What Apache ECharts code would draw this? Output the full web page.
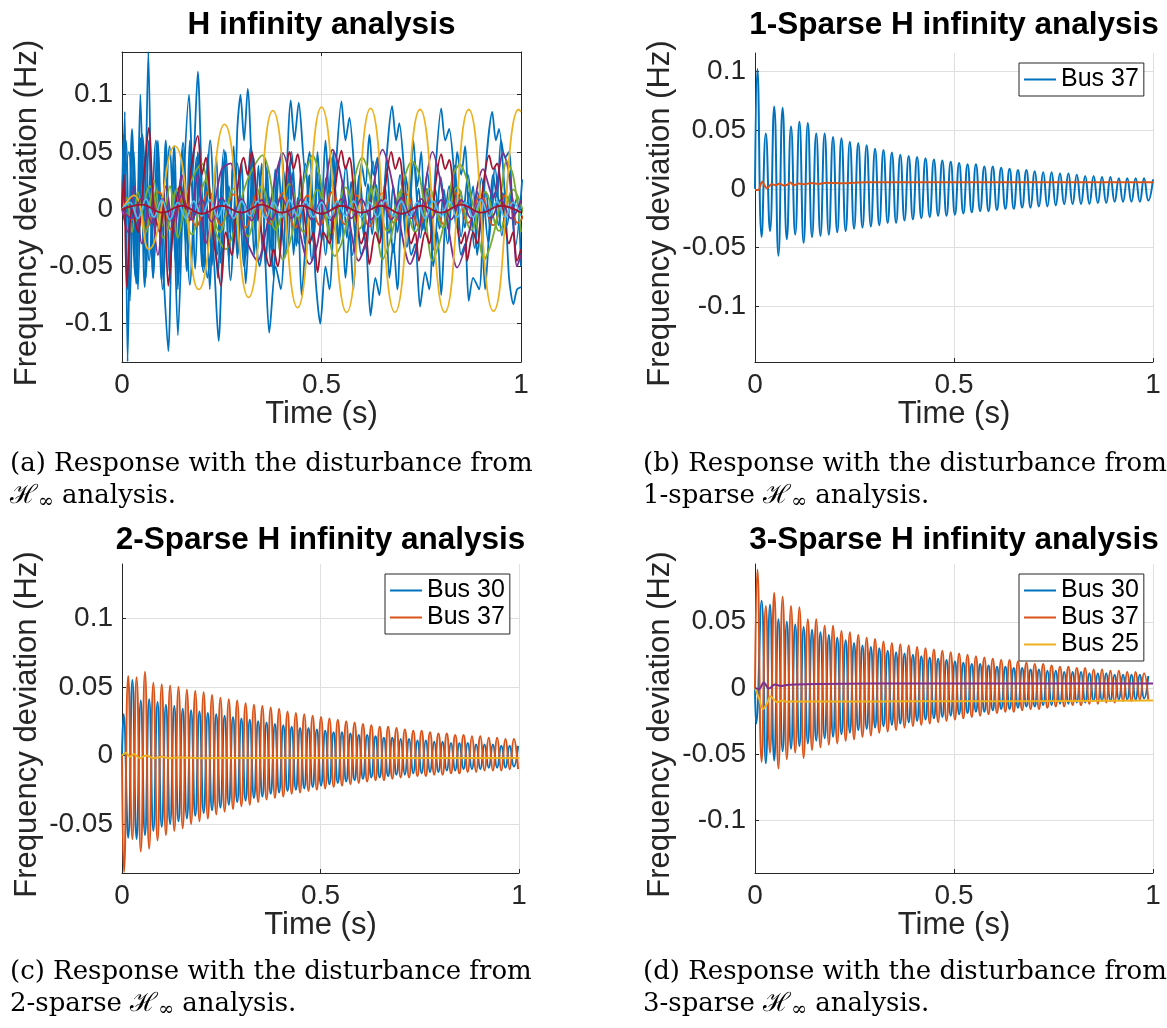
<!DOCTYPE html>
<html><head><meta charset="utf-8">
<script src="https://cdn.jsdelivr.net/npm/echarts@6/dist/echarts.min.js"></script>
<style>html,body{margin:0;padding:0;background:#fff}#c{width:1167px;height:1028px}</style>
</head><body><div id="c"></div><script>
// ---------------- data ----------------
const xTicks = [0, 0.5, 1];
const yTicksA = [-0.1, -0.05, 0, 0.05, 0.1];
const yTicksB = [-0.1, -0.05, 0, 0.05, 0.1];
const yTicksC = [-0.05, 0, 0.05, 0.1];
const yTicksD = [-0.1, -0.05, 0, 0.05];
const yLimA = [-0.1334, 0.1372];
const yLimB = [-0.1474, 0.1156];
const yLimC = [-0.0857, 0.1396];
const yLimD = [-0.140, 0.0937];
const HALF = 0.01056; // half period of the fast mode, read from the peaks spacing

// panel (b) 1-sparse
const bBus37Peaks = [0.102,0.047,0.070,0.069,0.053,0.057,0.056,0.047,0.047,0.044,0.043,0.040,0.039,0.037,0.034,0.033,0.031,0.029,0.028,0.027,0.026,0.025,0.024,0.023,0.022,0.021,0.021,0.019,0.019,0.018,0.017,0.016,0.016,0.015,0.014,0.014,0.013,0.013,0.012,0.011,0.011,0.010,0.010,0.009,0.009,0.009,0.009];
const bBus37Troughs = [-0.041,-0.036,-0.057,-0.043,-0.039,-0.046,-0.041,-0.040,-0.039,-0.037,-0.036,-0.034,-0.033,-0.032,-0.031,-0.029,-0.029,-0.027,-0.026,-0.025,-0.024,-0.023,-0.023,-0.022,-0.021,-0.020,-0.019,-0.019,-0.018,-0.017,-0.017,-0.016,-0.016,-0.015,-0.015,-0.014,-0.013,-0.013,-0.013,-0.013,-0.012,-0.012,-0.011,-0.011,-0.011,-0.011,-0.010];
const bOther = [[0,-0.001],[0.008,-0.001],[0.018,0.006],[0.03,0.0005],[0.042,0.004],[0.052,0.003],[0.062,0.0045],[0.072,0.0028],[0.082,0.0035],[0.088,0.0055],[0.098,0.003],[0.11,0.0045],[0.125,0.0038],[0.14,0.005],[0.16,0.0042],[0.18,0.0052],[0.22,0.0048],[0.28,0.0055],[0.4,0.0055],[0.6,0.0056],[1,0.0056]];

// panel (c) 2-sparse
const cBus37Peaks = [0.058,0.057,0.061,0.053,0.052,0.051,0.050,0.048,0.047,0.046,0.044,0.042,0.041,0.040,0.038,0.037,0.036,0.035,0.034,0.032,0.031,0.030,0.029,0.028,0.027,0.026,0.025,0.024,0.023,0.022,0.021,0.021,0.020,0.019,0.018,0.018,0.017,0.016,0.016,0.015,0.015,0.014,0.014,0.013,0.013,0.012,0.012];
const cBus37Troughs = [-0.061,-0.070,-0.068,-0.062,-0.058,-0.055,-0.053,-0.050,-0.048,-0.046,-0.043,-0.041,-0.039,-0.037,-0.036,-0.034,-0.032,-0.031,-0.030,-0.028,-0.027,-0.026,-0.025,-0.024,-0.023,-0.022,-0.021,-0.020,-0.019,-0.018,-0.018,-0.017,-0.016,-0.016,-0.015,-0.015,-0.014,-0.014,-0.013,-0.013,-0.012,-0.012,-0.011,-0.011,-0.011,-0.010,-0.010];
const cBus30Troughs = [-0.060,-0.061,-0.058,-0.055,-0.052,-0.050,-0.048,-0.046,-0.044,-0.042,-0.040,-0.038,-0.036,-0.034,-0.033,-0.031,-0.030,-0.028,-0.027,-0.026,-0.025,-0.024,-0.023,-0.022,-0.021,-0.020,-0.019,-0.018,-0.017,-0.016,-0.016,-0.015,-0.014,-0.014,-0.013,-0.013,-0.012,-0.012,-0.011,-0.011,-0.010,-0.010,-0.010,-0.009,-0.009,-0.009,-0.008];
const cBus30Peaks = [0.055,0.040,0.041,0.039,0.037,0.036,0.034,0.033,0.032,0.031,0.030,0.029,0.028,0.027,0.026,0.025,0.024,0.023,0.022,0.021,0.020,0.020,0.019,0.018,0.017,0.017,0.016,0.015,0.015,0.014,0.013,0.013,0.012,0.012,0.011,0.011,0.010,0.010,0.009,0.009,0.009,0.008,0.008,0.008,0.007,0.007,0.007];
const cOther = [[0,0],[0.01,0.002],[0.02,-0.001],[0.03,0.001],[0.045,-0.002],[0.06,0.0],[0.08,-0.002],[0.1,-0.001],[0.12,-0.002],[0.15,-0.0015],[0.2,-0.002],[0.3,-0.0018],[0.5,-0.0018],[1,-0.0018]];

// panel (d) 3-sparse
const dBus37Peaks = [0.0896,0.062,0.072,0.069,0.062,0.061,0.052,0.052,0.047,0.047,0.043,0.042,0.040,0.038,0.037,0.035,0.034,0.033,0.032,0.031,0.030,0.029,0.028,0.027,0.026,0.025,0.024,0.023,0.022,0.021,0.021,0.020,0.019,0.018,0.018,0.017,0.016,0.016,0.015,0.015,0.014,0.014,0.013,0.013,0.012,0.012,0.011];
const dBus37Troughs = [-0.056,-0.049,-0.061,-0.054,-0.049,-0.053,-0.047,-0.045,-0.043,-0.042,-0.040,-0.039,-0.037,-0.036,-0.034,-0.033,-0.032,-0.030,-0.029,-0.028,-0.027,-0.026,-0.025,-0.024,-0.023,-0.022,-0.021,-0.020,-0.019,-0.018,-0.018,-0.017,-0.016,-0.016,-0.015,-0.014,-0.014,-0.013,-0.013,-0.012,-0.012,-0.011,-0.011,-0.010,-0.010,-0.009,-0.009];
const dBus30Peaks = [0.066,0.063,0.052,0.050,0.048,0.046,0.044,0.042,0.040,0.038,0.036,0.034,0.032,0.031,0.030,0.028,0.027,0.026,0.025,0.024,0.023,0.022,0.021,0.020,0.019,0.018,0.018,0.017,0.016,0.016,0.015,0.015,0.014,0.014,0.013,0.013,0.012,0.012,0.012,0.011,0.011,0.011,0.010,0.010,0.010,0.010,0.009];
const dBus30Troughs = [-0.057,-0.055,-0.048,-0.046,-0.044,-0.042,-0.040,-0.038,-0.037,-0.035,-0.034,-0.032,-0.031,-0.030,-0.029,-0.028,-0.027,-0.026,-0.025,-0.024,-0.023,-0.022,-0.021,-0.020,-0.019,-0.018,-0.018,-0.017,-0.016,-0.016,-0.015,-0.014,-0.014,-0.013,-0.013,-0.012,-0.012,-0.011,-0.011,-0.010,-0.010,-0.010,-0.009,-0.009,-0.009,-0.008];
const dBus25 = [[0,0],[0.01,-0.008],[0.02,-0.016],[0.03,-0.012],[0.039,-0.0063],[0.048,-0.009],[0.056,-0.011],[0.068,-0.0095],[0.08,-0.0105],[0.1,-0.0102],[0.15,-0.0103],[0.3,-0.0102],[0.5,-0.0101],[0.8,-0.0099],[1,-0.0096]];
const dOther = [[0,0],[0.01,-0.001],[0.022,0.004],[0.035,-0.0005],[0.05,0.0025],[0.065,0.0015],[0.08,0.0022],[0.1,0.0026],[0.15,0.003],[0.3,0.0033],[1,0.0033]];

// panel (a) H infinity (many buses)
const aYellow = [[0,0],[0.03,0.012],[0.067,-0.035],[0.132,0.055],[0.192,-0.070],[0.257,0.074],[0.317,-0.077],[0.378,0.086],[0.440,-0.086],[0.500,0.089],[0.563,-0.090],[0.623,0.088],[0.684,-0.090],[0.747,0.087],[0.809,-0.090],[0.869,0.087],[0.931,-0.089],[0.994,0.087],[1.0,0.085]];
const aBlueA = [[0,0],[0.007,0.085],[0.014,-0.133],[0.025,0.06],[0.036,-0.04],[0.046,0.10],[0.056,-0.02],[0.066,0.137],[0.078,-0.06],[0.09,0.03],[0.103,-0.05],[0.116,-0.124],[0.128,0.02],[0.14,-0.11],[0.154,0.02],[0.168,0.10],[0.177,0.03],[0.19,0.12],[0.202,0.0],[0.214,-0.06],[0.226,-0.03],[0.242,-0.115],[0.254,-0.02],[0.268,0.02],[0.28,-0.03],[0.289,0.07],[0.297,0.10],[0.306,0.06],[0.315,0.105],[0.33,0.0],[0.345,-0.05],[0.355,-0.03],[0.369,-0.108],[0.385,-0.05],[0.398,-0.07],[0.423,0.095],[0.432,0.06],[0.443,0.093],[0.46,0.03],[0.47,0.05],[0.485,-0.06],[0.497,-0.10],[0.51,-0.05],[0.52,-0.07],[0.535,0.03],[0.55,0.094],[0.56,0.06],[0.57,0.08],[0.585,0.02],[0.6,-0.04],[0.61,-0.03],[0.623,-0.093],[0.635,-0.06],[0.645,-0.075],[0.66,0.03],[0.677,0.09],[0.687,0.06],[0.695,0.075],[0.71,0.02],[0.725,-0.04],[0.735,-0.03],[0.747,-0.085],[0.76,-0.055],[0.77,-0.07],[0.785,0.03],[0.80,0.088],[0.81,0.06],[0.82,0.07],[0.835,0.02],[0.85,-0.04],[0.86,-0.03],[0.869,-0.08],[0.88,-0.06],[0.895,-0.07],[0.91,0.03],[0.928,0.085],[0.937,0.06],[0.945,0.07],[0.96,0.01],[0.97,-0.06],[0.981,-0.083],[0.99,-0.07],[1.0,-0.068]];
const aBlueB = [0,0.06,-0.08,0.05,-0.07,0.065,-0.06,0.03,-0.05,0.06,-0.02,0.05,-0.06,0.04,-0.07,0.02,-0.03,0.06,-0.01,0.05,-0.05,0.03,-0.07,0.0,-0.06,0.02,0.05,-0.02,0.055,-0.04,0.01,-0.065,0.0,0.045,-0.01,0.04,-0.05,0.01,-0.06,0.02,0.05,0.0,0.04,-0.04,0.01,-0.075,-0.03,0.03,-0.02,0.05,0.0,0.06,0.01,0.05,-0.03,0.0,-0.06,-0.02,-0.07,0.0,0.04,0.02,0.065,0.03,0.045,-0.02,0.01,-0.06,-0.03,-0.07,0.0,0.03,0.01,0.06,0.02,0.05,-0.02,0.0,-0.05,-0.02,-0.075,-0.01,0.02,0.0,0.05,0.03,0.055,0.0,0.02,-0.04,-0.01,-0.07,-0.02,0.03,0.01,0.06,0.045,0.05,0.0,0.01,-0.05];
const aBlueCPeaks = [0.065,0.07,0.062,0.06,0.058,0.06,0.055,0.052,0.054,0.05,0.048,0.046,0.045,0.043,0.041,0.04,0.038,0.036,0.035,0.033,0.032,0.03,0.029,0.028,0.027,0.026,0.025,0.024,0.023,0.022,0.021,0.021,0.02,0.019,0.019,0.018,0.018,0.017,0.017,0.016,0.016,0.015,0.015,0.015,0.014,0.014,0.014];
const aBlueCTroughs = [-0.07,-0.065,-0.068,-0.06,-0.062,-0.057,-0.058,-0.054,-0.052,-0.05,-0.049,-0.047,-0.045,-0.043,-0.041,-0.04,-0.038,-0.036,-0.035,-0.033,-0.032,-0.03,-0.029,-0.028,-0.027,-0.026,-0.025,-0.024,-0.023,-0.022,-0.021,-0.021,-0.02,-0.019,-0.019,-0.018,-0.018,-0.017,-0.017,-0.016,-0.016,-0.015,-0.015,-0.015,-0.014,-0.014,-0.014];
const aBlueD = [0,0.05,-0.06,0.065,-0.045,0.06,-0.07,0.055,-0.05,0.058,-0.066,0.045,-0.055,0.06,-0.04,0.052,-0.062,0.04,-0.05,0.055,-0.035,0.045,-0.05,0.038,-0.042,0.05,-0.03,0.04,-0.045,0.035,-0.04,0.045,-0.03,0.038,-0.04,0.03,-0.035,0.042,-0.028,0.035,-0.038,0.03,-0.033,0.04,-0.025,0.032,-0.036,0.028,-0.03,0.038,-0.024,0.03,-0.034,0.027,-0.029,0.036,-0.023,0.03,-0.032,0.026];
const aRed = [[0,0],[0.005,0.03],[0.012,-0.068],[0.025,0.0],[0.04,-0.02],[0.055,0.03],[0.067,0.071],[0.08,0.0],[0.095,-0.02],[0.105,0.01],[0.116,-0.067],[0.13,-0.01],[0.145,0.02],[0.16,0.0],[0.175,0.04],[0.19,0.064],[0.2,0.03],[0.21,0.045],[0.225,-0.01],[0.235,-0.04],[0.248,-0.067],[0.26,-0.02],[0.275,-0.04],[0.29,0.02],[0.305,0.045],[0.315,0.03],[0.325,0.05],[0.34,0.0],[0.355,-0.03],[0.37,-0.05],[0.38,-0.035],[0.39,-0.05],[0.405,0.0],[0.42,0.05],[0.43,0.035],[0.44,0.048],[0.455,0.0],[0.47,-0.03],[0.48,-0.02],[0.49,-0.055],[0.505,-0.02],[0.52,-0.03],[0.535,0.02],[0.55,0.051],[0.56,0.035],[0.57,0.045],[0.585,0.0],[0.6,-0.03],[0.61,-0.02],[0.62,-0.048],[0.635,-0.02],[0.645,-0.03],[0.66,0.02],[0.675,0.05],[0.685,0.035],[0.695,0.045],[0.71,0.0],[0.725,-0.03],[0.735,-0.02],[0.744,-0.045],[0.76,-0.02],[0.77,-0.03],[0.785,0.02],[0.80,0.048],[0.81,0.035],[0.82,0.043],[0.835,0.0],[0.85,-0.03],[0.86,-0.02],[0.865,-0.045],[0.88,-0.02],[0.89,-0.03],[0.905,0.02],[0.92,0.047],[0.93,0.035],[0.94,0.04],[0.955,0.0],[0.97,-0.03],[0.98,-0.02],[0.99,-0.045],[1.0,-0.035]];
const aPurple = [[0,0],[0.015,-0.02],[0.03,0.02],[0.05,-0.03],[0.07,0.01],[0.09,-0.04],[0.11,0.02],[0.13,-0.02],[0.15,0.03],[0.17,-0.01],[0.19,0.03],[0.21,-0.03],[0.23,0.0],[0.25,0.035],[0.272,0.04],[0.29,0.01],[0.31,-0.025],[0.34,-0.045],[0.36,-0.02],[0.38,0.02],[0.403,0.049],[0.42,0.03],[0.44,-0.01],[0.47,-0.048],[0.49,-0.03],[0.51,0.02],[0.528,0.052],[0.545,0.035],[0.565,0.0],[0.593,-0.045],[0.61,-0.03],[0.63,0.02],[0.653,0.052],[0.67,0.035],[0.69,0.0],[0.722,-0.048],[0.74,-0.03],[0.76,0.02],[0.778,0.05],[0.795,0.03],[0.815,-0.01],[0.84,-0.051],[0.87,-0.02],[0.905,0.035],[0.93,0.01],[0.955,0.049],[0.975,0.02],[0.99,-0.05],[1.0,-0.04]];
const aGreen = [[0,0],[0.012,0.01],[0.025,-0.02],[0.04,0.015],[0.06,-0.02],[0.08,0.025],[0.1,-0.015],[0.12,0.02],[0.14,-0.025],[0.16,0.01],[0.18,0.03],[0.2,0.04],[0.215,0.02],[0.235,-0.02],[0.26,-0.035],[0.28,-0.02],[0.3,0.01],[0.32,0.03],[0.352,0.047],[0.37,0.03],[0.385,-0.01],[0.403,-0.044],[0.42,-0.03],[0.44,0.0],[0.46,0.03],[0.477,0.047],[0.495,0.03],[0.51,-0.005],[0.533,-0.041],[0.55,-0.03],[0.57,0.0],[0.585,0.03],[0.602,0.045],[0.62,0.03],[0.635,-0.005],[0.653,-0.044],[0.67,-0.03],[0.69,0.0],[0.71,0.03],[0.727,0.042],[0.745,0.03],[0.76,-0.005],[0.778,-0.045],[0.795,-0.03],[0.815,0.0],[0.83,0.03],[0.847,0.039],[0.865,0.025],[0.885,-0.005],[0.908,-0.044],[0.925,-0.03],[0.945,0.0],[0.964,0.042],[0.98,0.03],[1.0,-0.02]];
const aOrangeS = [0,0.012,-0.016,0.015,-0.018,0.012,-0.015,0.016,-0.014,0.013,-0.016,0.015,-0.013,0.014,-0.016,0.012,-0.014,0.015,-0.013,0.012,-0.015,0.014,-0.012,0.013,-0.015,0.012,-0.013,0.014,-0.012,0.013,-0.014,0.012,-0.012,0.011];
const aGreenS = [0,-0.01,0.02,-0.025,0.018,-0.022,0.025,-0.02,0.018,-0.024,0.02,-0.018,0.022,-0.02,0.017,-0.021,0.019,-0.017,0.02,-0.019,0.016,-0.02,0.018,-0.016,0.019,-0.018,0.015,-0.019,0.017,-0.015];
const aCyanS = [0,0.006,-0.008,0.009,-0.007,0.008,-0.009,0.006,-0.008,0.007,-0.006,0.008,-0.007,0.006,-0.008,0.007,-0.006,0.007,-0.008,0.006,-0.007,0.008,-0.006,0.007,-0.007,0.006,-0.008,0.007,-0.006,0.007,-0.007,0.006,-0.007,0.008,-0.006,0.007,-0.007,0.006,-0.008,0.007,-0.006,0.007,-0.007,0.006,-0.007,0.008,-0.006,0.007,-0.007,0.006,-0.006];
const aDarkRedS = [0,0.004,-0.003,0.003,-0.004,0.003,-0.003,0.004,-0.003,0.003,-0.004,0.003,-0.003,0.003,-0.004,0.003,-0.003,0.004,-0.003,0.003,-0.003];
const aPurpleS = [0,-0.008,0.01,-0.012,0.009,-0.01,0.012,-0.009,0.008,-0.011,0.01,-0.008,0.009,-0.01,0.008,-0.009,0.01,-0.008,0.009,-0.009,0.008,-0.01,0.009,-0.008,0.009,-0.009,0.008,-0.009,0.01,-0.008,0.009,-0.008,0.008,-0.009,0.008,-0.008,0.009,-0.008,0.008,-0.008,0.008];

// ---------------- helpers ----------------
const C = {blue:'#0072BD', orange:'#D95319', yellow:'#EDB120', purple:'#7E2F8E', green:'#77AC30', cyan:'#4DBEEE', red:'#A2142F'};
function osc(start, t0, first, second, end) {
  const out = start.slice();
  const n = Math.max(first.length, second.length);
  for (let k = 0; k < n; k++) {
    if (k < first.length) out.push([t0 + 2 * k * HALF, first[k]]);
    if (k < second.length) out.push([t0 + (2 * k + 1) * HALF, second[k]]);
  }
  return end ? out.concat(end) : out;
}
function stepped(vals, dt) { return vals.map((v, i) => [i * dt, v]); }

const grids = [
  {left:122, top:52, width:399, height:310},
  {left:755, top:53, width:398, height:309},
  {left:122, top:564, width:397, height:309},
  {left:755, top:564, width:398, height:309}
];
const AX = '#262626';
const tickFont = {color:AX, fontSize:28, fontFamily:'Liberation Sans'};
function xAx(i) {
  return {type:'value', gridIndex:i, min:0, max:1, interval:0.5,
    axisLine:{show:true, onZero:false, lineStyle:{color:AX, width:1}},
    axisTick:{show:true, inside:true, length:4, lineStyle:{color:AX}},
    axisLabel:Object.assign({margin:9, formatter:v => String(v)}, tickFont),
    splitLine:{show:true, lineStyle:{color:'#dfdfdf', width:1}}};
}
function yAx(i, lim, ticks) {
  return {type:'value', gridIndex:i, min:lim[0], max:lim[1],
    axisLine:{show:true, onZero:false, lineStyle:{color:AX, width:1}},
    axisTick:{show:true, inside:true, length:4, customValues:ticks, lineStyle:{color:AX}},
    axisLabel:Object.assign({margin:9, customValues:ticks, formatter:v => String(v)}, tickFont),
    splitLine:{show:true, lineStyle:{color:'#dfdfdf', width:1}}};
}
const xAxes = [xAx(0), xAx(1), xAx(2), xAx(3),
  {type:'value', gridIndex:0, position:'top', min:0, max:1, interval:0.5,
   axisLine:{show:true, onZero:false, lineStyle:{color:AX}}, axisTick:{show:true, inside:true, length:4, lineStyle:{color:AX}},
   axisLabel:{show:false}, splitLine:{show:false}}];
const yAxes = [yAx(0, yLimA, yTicksA), yAx(1, yLimB, yTicksB), yAx(2, yLimC, yTicksC), yAx(3, yLimD, yTicksD),
  {type:'value', gridIndex:0, position:'right', min:yLimA[0], max:yLimA[1],
   axisLine:{show:true, onZero:false, lineStyle:{color:AX}}, axisTick:{show:true, inside:true, length:4, customValues:yTicksA, lineStyle:{color:AX}},
   axisLabel:{show:false}, splitLine:{show:false}}];

function line(name, idx, data, color, smooth, width) {
  return {type:'line', name, xAxisIndex:idx, yAxisIndex:idx, data, showSymbol:false, symbol:'none',
    smooth: smooth || false, clip:true, silent:true,
    lineStyle:{color, width: width || 1.8}, itemStyle:{color}};
}

const series = [
  // panel a
  line('a|1', 0, stepped(aBlueD, 0.017), C.blue, 0.3),
  line('a|2', 0, osc([[0,0]], 0.004, aBlueCPeaks, aBlueCTroughs), C.blue, 0.4),
  line('a|3', 0, stepped(aBlueB, 0.01), C.blue, 0.3),
  line('a|4', 0, aBlueA, C.blue, 0.25),
  line('a|5', 0, stepped(aOrangeS, 0.031), C.orange, 0.4),
  line('a|6', 0, stepped(aGreenS, 0.035), C.green, 0.4),
  line('a|7', 0, aPurple, C.purple, 0.3),
  line('a|8', 0, aGreen, C.green, 0.3),
  line('a|9', 0, aRed, C.red, 0.3),
  line('a|10', 0, aYellow, C.yellow, 0.5),
  line('a|11', 0, stepped(aPurpleS, 0.025), C.purple, 0.4),
  line('a|12', 0, stepped(aCyanS, 0.02), C.cyan, 0.4),
  line('a|13', 0, stepped(aDarkRedS, 0.05), C.red, 0.4),
  // panel b
  line('b|Bus 37', 1, osc([[0,0]], 0.006, bBus37Peaks, bBus37Troughs, [[1,0.008]]), C.blue, 0.5, 2),
  line('b|o', 1, bOther, C.orange, 0.3, 2),
  // panel c
  line('c|Bus 30', 2, osc([[0,0],[0.004,0.030]], 0.0156, cBus30Troughs, cBus30Peaks), C.blue, 0.5, 2),
  line('c|Bus 37', 2, osc([[0,0],[0.005,-0.085]], 0.0156, cBus37Peaks, cBus37Troughs), C.orange, 0.5, 2),
  line('c|o', 2, cOther, C.yellow, 0.3, 2),
  // panel d
  line('d|Bus 30', 3, osc([[0,0],[0.003,-0.027]], 0.0166, dBus30Peaks, dBus30Troughs), C.blue, 0.5, 2),
  line('d|Bus 37', 3, osc([[0,0]], 0.006, dBus37Peaks, dBus37Troughs), C.orange, 0.5, 2),
  line('d|Bus 25', 3, dBus25, C.yellow, 0.3, 2),
  line('d|o', 3, dOther, C.purple, 0.3, 2)
];

function legend(left, top, names) {
  return {show:true, orient:'vertical', left, top, align:'left', itemWidth:32, itemHeight:2, icon:'rect',
    itemGap:2, padding:[4,5,4,5], borderColor:AX, borderWidth:1, borderRadius:0, backgroundColor:'#fff',
    selectedMode:false, data:names, formatter:n => n.split('|')[1],
    textStyle:{fontSize:25, color:'#000', fontFamily:'Liberation Sans', padding:[0,0,0,0]}};
}

// ---------------- text ----------------
function T(x, y, text, size, opts) {
  opts = opts || {};
  return {type:'text', x, y, rotation: opts.rot || 0, silent:true, z:100,
    style:{text, fill: opts.fill || '#000', fontSize:size, fontFamily: opts.family || 'Liberation Sans',
      fontWeight: opts.weight || 'normal', align: opts.align || 'center', textAlign: opts.align || 'center',
      verticalAlign:'middle', textVerticalAlign:'middle', rich: opts.rich}};
}
const titles = ['H infinity analysis', '1-Sparse H infinity analysis', '2-Sparse H infinity analysis', '3-Sparse H infinity analysis'];
const capLine1 = ['(a) Response with the disturbance from', '(b) Response with the disturbance from', '(c) Response with the disturbance from', '(d) Response with the disturbance from'];
const capLine2 = ['{h|ℋ}{s|∞} analysis.', '1-sparse {h|ℋ}{s|∞} analysis.', '2-sparse {h|ℋ}{s|∞} analysis.', '3-sparse {h|ℋ}{s|∞} analysis.'];
const xName = 'Time (s)';
const yName = 'Frequency deviation (Hz)';
const capRich = {h:{fontSize:26, fontFamily:'DejaVu Serif'}, s:{fontSize:19, fontFamily:'DejaVu Serif', padding:[12,0,0,0]}};

const graphics = [];
grids.forEach((g, i) => {
  const cx = g.left + g.width / 2;
  const top = g.top, bottom = g.top + g.height;
  graphics.push(T(cx, i < 2 ? 25 : 540, titles[i], 31.5, {weight:'bold'}));
  graphics.push(T(cx, bottom + 52, xName, 31, {fill:AX}));
  graphics.push(T(g.left - 95, (top + bottom) / 2 + 6, yName, 31, {fill:AX, rot:Math.PI / 2}));
  const capX = i % 2 === 0 ? 10 : 643;
  const capY = i < 2 ? 464 : 972;
  graphics.push(T(capX, capY, capLine1[i], 26, {family:'DejaVu Serif', align:'left'}));
  graphics.push(T(capX, capY + 32, capLine2[i], 26, {family:'DejaVu Serif', align:'left', rich:capRich}));
});

const chart = echarts.init(document.getElementById('c'), null, {renderer:'canvas'});
chart.setOption({
  animation:false,
  backgroundColor:'#fff',
  grid: grids.map(g => Object.assign({containLabel:false, outerBoundsMode:'none', show:false}, g)),
  xAxis: xAxes,
  yAxis: yAxes,
  legend: [legend(1019, 63, ['b|Bus 37']), legend(385, 574, ['c|Bus 30', 'c|Bus 37']), legend(1019, 574, ['d|Bus 30', 'd|Bus 37', 'd|Bus 25'])],
  series,
  graphic: {elements: graphics}
});
</script></body></html>
